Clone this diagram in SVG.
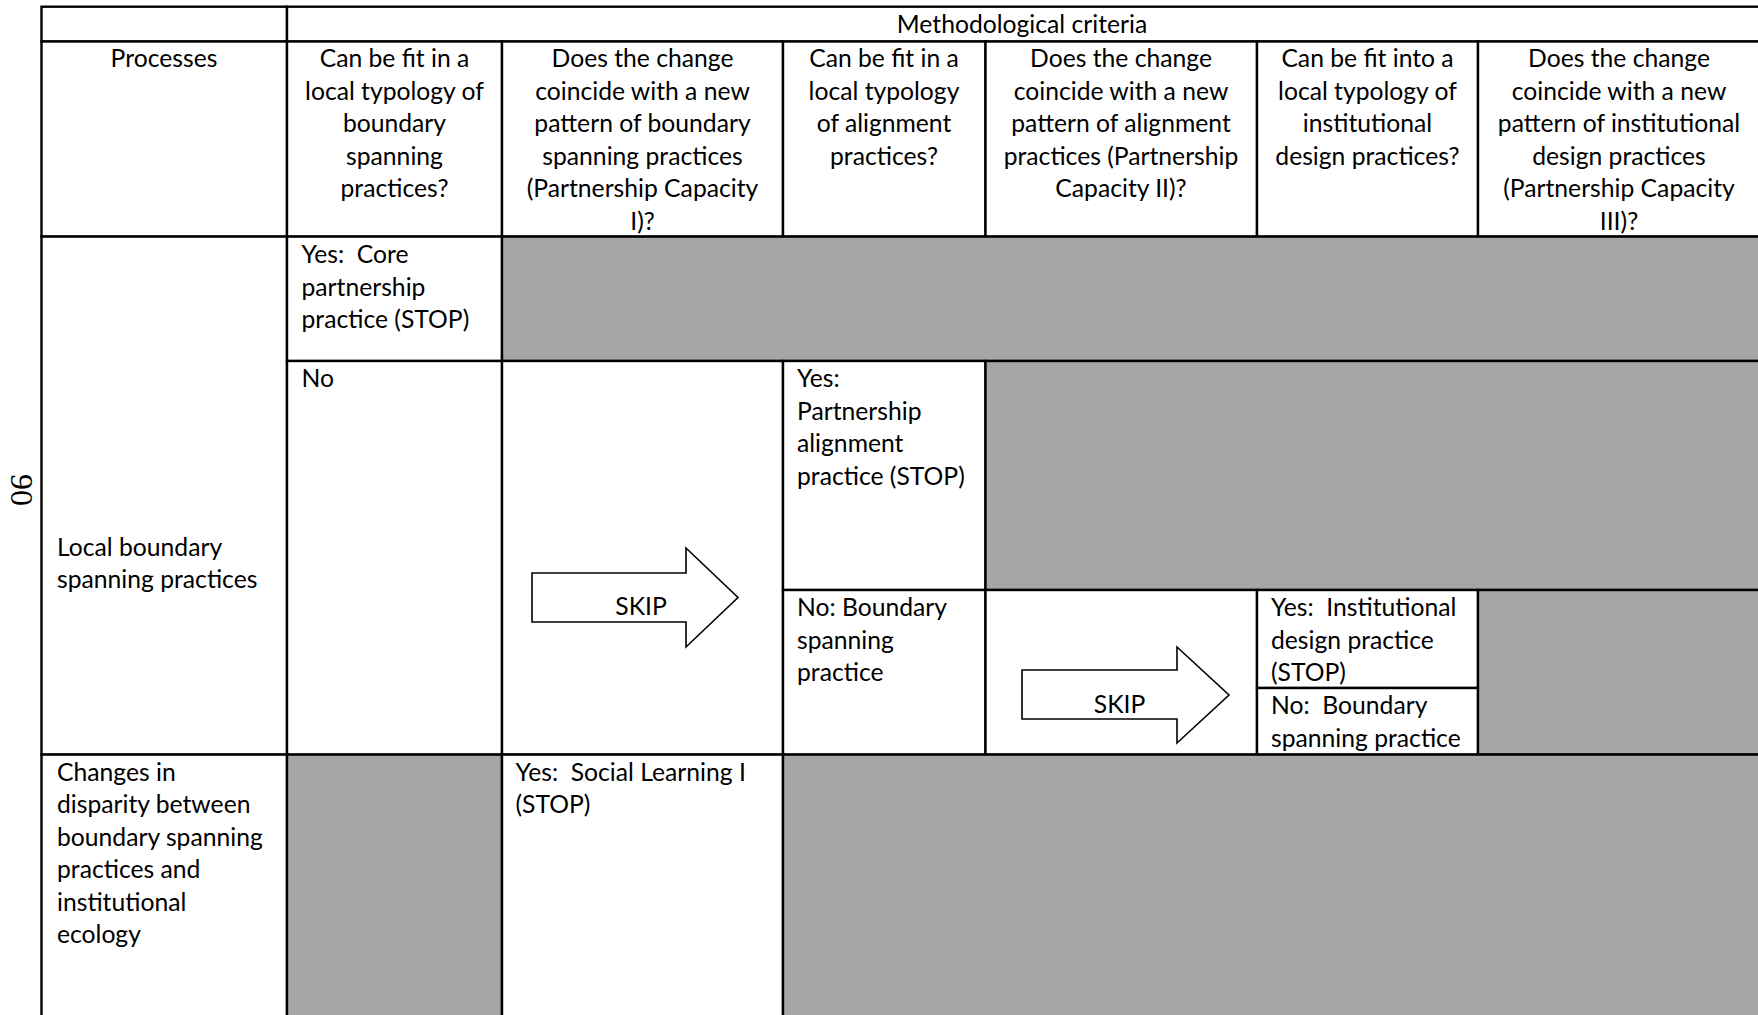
<svg xmlns="http://www.w3.org/2000/svg" width="1758" height="1015" viewBox="0 0 1758 1015">
  <style>
    .cell { fill: #ffffff; stroke: #000000; stroke-width: 2.4; }
    .shade { fill: #a6a6a6; stroke: #000000; stroke-width: 2.4; }
    text { font-family: Lato, "Liberation Sans", sans-serif; font-size: 24.7px; fill: #000000; white-space: pre; }
    .c { text-anchor: middle; }
    .arrow { fill: #ffffff; stroke: #000000; stroke-width: 1.6; stroke-linejoin: miter; }
    .pageno { font-family: "Liberation Serif", serif; font-size: 32px; text-anchor: middle; }
  </style>

  <rect x="0" y="0" width="1758" height="1015" fill="#ffffff"/>

  <!-- page number printed sideways -->
  <text class="pageno" transform="translate(11,490) rotate(90)">90</text>

  <!-- header band -->
  <g id="corner">
    <rect class="cell" x="41.5" y="6.7" width="245.5" height="34.8"/>
  </g>
  <g id="methodological-criteria">
    <rect class="cell" x="287" y="6.7" width="1520" height="34.8"/>
    <text class="c" x="1022" y="32.5">Methodological criteria</text>
  </g>

  <g id="head-processes">
    <rect class="cell" x="41.5" y="41.5" width="245.5" height="195.1"/>
    <text class="c" x="164" y="67">Processes</text>
  </g>
  <g id="head-boundary-typology">
    <rect class="cell" x="287" y="41.5" width="215" height="195.1"/>
    <text class="c" x="394.5" y="67">Can be fit in a</text>
    <text class="c" x="394.5" y="99.5">local typology of</text>
    <text class="c" x="394.5" y="132">boundary</text>
    <text class="c" x="394.5" y="164.5">spanning</text>
    <text class="c" x="394.5" y="197">practices?</text>
  </g>
  <g id="head-capacity-1">
    <rect class="cell" x="502" y="41.5" width="281" height="195.1"/>
    <text class="c" x="642.5" y="67">Does the change</text>
    <text class="c" x="642.5" y="99.5">coincide with a new</text>
    <text class="c" x="642.5" y="132">pattern of boundary</text>
    <text class="c" x="642.5" y="164.5">spanning practices</text>
    <text class="c" x="642.5" y="197">(Partnership Capacity</text>
    <text class="c" x="642.5" y="229.5">I)?</text>
  </g>
  <g id="head-alignment-typology">
    <rect class="cell" x="783" y="41.5" width="202.5" height="195.1"/>
    <text class="c" x="884" y="67">Can be fit in a</text>
    <text class="c" x="884" y="99.5">local typology</text>
    <text class="c" x="884" y="132">of alignment</text>
    <text class="c" x="884" y="164.5">practices?</text>
  </g>
  <g id="head-capacity-2">
    <rect class="cell" x="985.5" y="41.5" width="271.5" height="195.1"/>
    <text class="c" x="1121" y="67">Does the change</text>
    <text class="c" x="1121" y="99.5">coincide with a new</text>
    <text class="c" x="1121" y="132">pattern of alignment</text>
    <text class="c" x="1121" y="164.5">practices (Partnership</text>
    <text class="c" x="1121" y="197">Capacity II)?</text>
  </g>
  <g id="head-institutional-typology">
    <rect class="cell" x="1257" y="41.5" width="221" height="195.1"/>
    <text class="c" x="1367.5" y="67">Can be fit into a</text>
    <text class="c" x="1367.5" y="99.5">local typology of</text>
    <text class="c" x="1367.5" y="132">institutional</text>
    <text class="c" x="1367.5" y="164.5">design practices?</text>
  </g>
  <g id="head-capacity-3">
    <rect class="cell" x="1478" y="41.5" width="330" height="195.1"/>
    <text class="c" x="1619" y="67">Does the change</text>
    <text class="c" x="1619" y="99.5">coincide with a new</text>
    <text class="c" x="1619" y="132">pattern of institutional</text>
    <text class="c" x="1619" y="164.5">design practices</text>
    <text class="c" x="1619" y="197">(Partnership Capacity</text>
    <text class="c" x="1619" y="229.5">III)?</text>
  </g>

  <!-- row: local boundary spanning practices -->
  <g id="row-local-boundary">
    <rect class="cell" x="41.5" y="236.6" width="245.5" height="518"/>
    <text x="57" y="555.5">Local boundary</text>
    <text x="57" y="588">spanning practices</text>
  </g>
  <g id="core-yes">
    <rect class="cell" x="287" y="236.6" width="215" height="124.4"/>
    <text x="301.5" y="263">Yes:  Core</text>
    <text x="301.5" y="295.5">partnership</text>
    <text x="301.5" y="328">practice (STOP)</text>
  </g>
  <g id="shade-core">
    <rect class="shade" x="502" y="236.6" width="1306" height="124.4"/>
  </g>
  <g id="core-no">
    <rect class="cell" x="287" y="361" width="215" height="393.6"/>
    <text x="301.5" y="387">No</text>
  </g>
  <g id="skip-capacity-1">
    <rect class="cell" x="502" y="361" width="281" height="393.6"/>
  </g>
  <g id="alignment-yes">
    <rect class="cell" x="783" y="361" width="202.5" height="229"/>
    <text x="797" y="387">Yes:</text>
    <text x="797" y="419.5">Partnership</text>
    <text x="797" y="452">alignment</text>
    <text x="797" y="484.5">practice (STOP)</text>
  </g>
  <g id="shade-alignment">
    <rect class="shade" x="985.5" y="361" width="822.5" height="229"/>
  </g>
  <g id="alignment-no">
    <rect class="cell" x="783" y="590" width="202.5" height="164.6"/>
    <text x="797" y="616">No: Boundary</text>
    <text x="797" y="648.5">spanning</text>
    <text x="797" y="681">practice</text>
  </g>
  <g id="skip-capacity-2">
    <rect class="cell" x="985.5" y="590" width="271.5" height="164.6"/>
  </g>
  <g id="institutional-yes">
    <rect class="cell" x="1257" y="590" width="221" height="98"/>
    <text x="1271" y="616">Yes:  Institutional</text>
    <text x="1271" y="648.5">design practice</text>
    <text x="1271" y="681">(STOP)</text>
  </g>
  <g id="institutional-no">
    <rect class="cell" x="1257" y="688" width="221" height="66.6"/>
    <text x="1271" y="714">No:  Boundary</text>
    <text x="1271" y="746.5">spanning practice</text>
  </g>
  <g id="shade-institutional">
    <rect class="shade" x="1478" y="590" width="330" height="164.6"/>
  </g>

  <!-- row: changes in disparity -->
  <g id="row-disparity">
    <rect class="cell" x="41.5" y="754.6" width="245.5" height="300"/>
    <text x="57" y="780.5">Changes in</text>
    <text x="57" y="813">disparity between</text>
    <text x="57" y="845.5">boundary spanning</text>
    <text x="57" y="878">practices and</text>
    <text x="57" y="910.5">institutional</text>
    <text x="57" y="943">ecology</text>
  </g>
  <g id="shade-disparity-typology">
    <rect class="shade" x="287" y="754.6" width="215" height="300"/>
  </g>
  <g id="social-learning-yes">
    <rect class="cell" x="502" y="754.6" width="281" height="300"/>
    <text x="515.5" y="780.5">Yes:  Social Learning I</text>
    <text x="515.5" y="813">(STOP)</text>
  </g>
  <g id="shade-disparity-rest">
    <rect class="shade" x="783" y="754.6" width="1025" height="300"/>
  </g>

  <!-- skip arrows -->
  <g id="connectors">
    <g id="skip-arrow-1">
      <polygon class="arrow" points="532,573 686,573 686,548 738,597.5 686,647 686,622 532,622"/>
      <text class="c" x="641" y="614.5">SKIP</text>
    </g>
    <g id="skip-arrow-2">
      <polygon class="arrow" points="1022,670 1177,670 1177,647 1229,695 1177,743 1177,719 1022,719"/>
      <text class="c" x="1119.5" y="713">SKIP</text>
    </g>
  </g>
</svg>
